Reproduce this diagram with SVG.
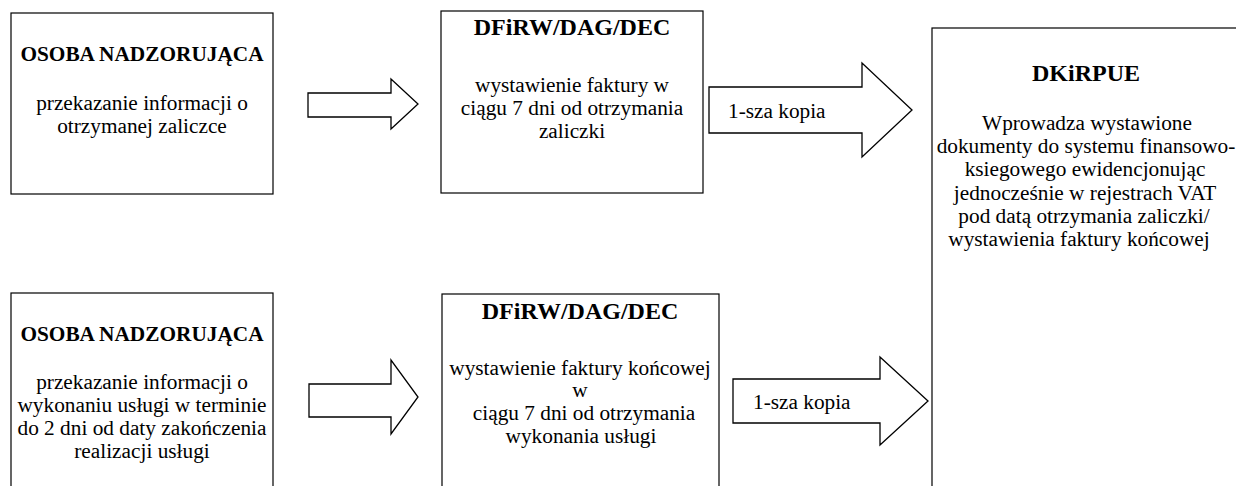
<svg xmlns="http://www.w3.org/2000/svg" width="1236" height="486" viewBox="0 0 1236 486">
<style>
.box{fill:#fff;stroke:#000;stroke-width:1.2}
.arr{fill:#fff;stroke:#000;stroke-width:1.3;stroke-linejoin:miter}
text{font-family:"Liberation Serif","Times New Roman",serif;fill:#000}
.t{font-weight:bold;font-size:21.3px;text-anchor:middle}
.T{font-weight:bold;font-size:24px;text-anchor:middle}
.b{font-size:21.3px;text-anchor:middle}
.l{font-size:21.3px}
</style>
<rect width="1236" height="486" fill="#fff"/>
<g id="connectors">
<polygon class="arr" points="308,93 391,93 391,79 418,104 391,129 391,117 308,117"/>
<polygon class="arr" points="709,87 862,87 862,63 912,110 862,157 862,133 709,133"/>
<text class="l" x="728" y="118">1-sza kopia</text>
<polygon class="arr" points="309,384 391,384 391,360 418,397 391,434 391,417 309,417"/>
<polygon class="arr" points="733,379 880,379 880,357 928,401 880,445 880,423 733,423"/>
<text class="l" x="753" y="409">1-sza kopia</text>
</g>
<g id="n1">
<rect class="box" x="11" y="13" width="262" height="181"/>
<text class="t" x="142" y="61">OSOBA NADZORUJĄCA</text>
<text class="b" x="142" y="110">przekazanie informacji o</text>
<text class="b" x="142" y="133">otrzymanej zaliczce</text>
</g>
<g id="n2">
<rect class="box" x="441" y="11" width="262" height="182"/>
<text class="T" x="572" y="35">DFiRW/DAG/DEC</text>
<text class="b" x="572" y="92">wystawienie faktury w</text>
<text class="b" x="572" y="115">ciągu 7 dni od otrzymania</text>
<text class="b" x="572" y="138">zaliczki</text>
</g>
<g id="n3">
<rect class="box" x="932" y="28" width="310" height="470"/>
<text class="T" x="1086" y="81">DKiRPUE</text>
<text class="b" x="1087" y="130">Wprowadza wystawione</text>
<text class="b" x="1086" y="153">dokumenty do systemu finansowo-</text>
<text class="b" x="1085" y="176">ksiegowego ewidencjonując</text>
<text class="b" x="1085" y="200">jednocześnie w rejestrach VAT</text>
<text class="b" x="1084" y="223">pod datą otrzymania zaliczki/</text>
<text class="b" x="1079" y="246">wystawienia faktury końcowej</text>
</g>
<g id="n4">
<rect class="box" x="11" y="293" width="262" height="205"/>
<text class="t" x="142" y="341">OSOBA NADZORUJĄCA</text>
<text class="b" x="142" y="389">przekazanie informacji o</text>
<text class="b" x="142" y="412">wykonaniu usługi w terminie</text>
<text class="b" x="142" y="435">do 2 dni od daty zakończenia</text>
<text class="b" x="142" y="458">realizacji usługi</text>
</g>
<g id="n5">
<rect class="box" x="442" y="294" width="277" height="204"/>
<text class="T" x="580" y="319">DFiRW/DAG/DEC</text>
<text class="b" x="580" y="375">wystawienie faktury końcowej</text>
<text class="b" x="580" y="397">w</text>
<text class="b" x="584" y="420">ciągu 7 dni od otrzymania</text>
<text class="b" x="581" y="443">wykonania usługi</text>
</g>
</svg>
